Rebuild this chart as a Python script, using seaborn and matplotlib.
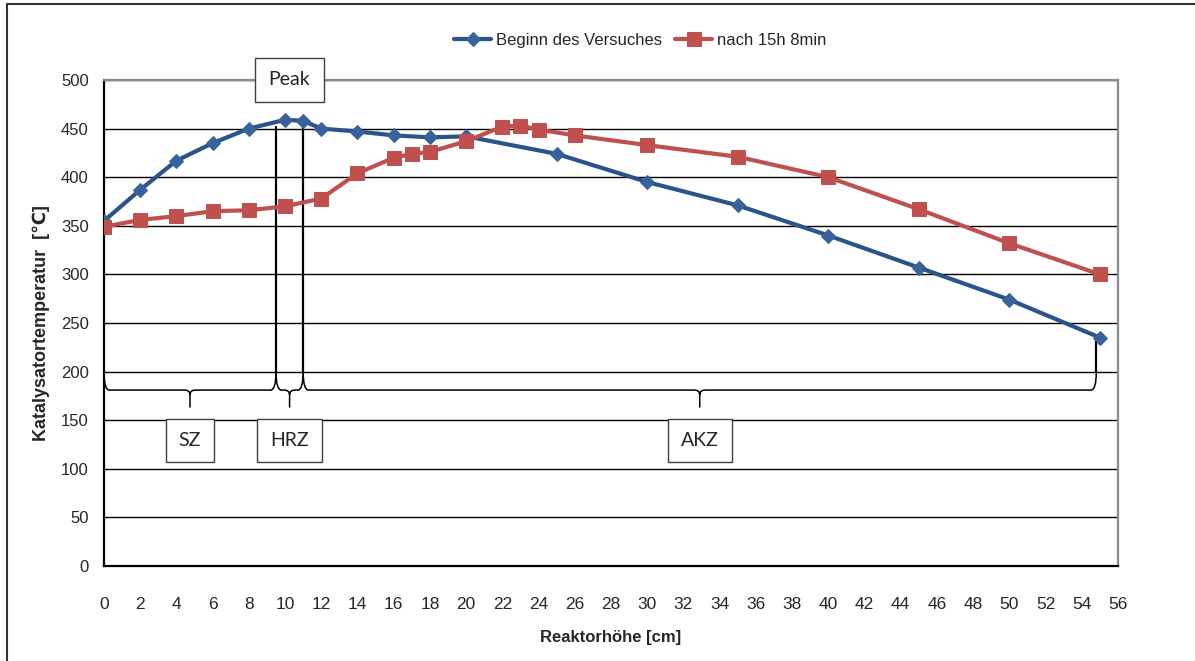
import numpy as np
import pandas as pd
import seaborn as sns
import matplotlib.pyplot as plt
import matplotlib.font_manager as fm
from matplotlib.path import Path
from matplotlib.patches import PathPatch
from matplotlib.lines import Line2D

# Messwerte: Reaktorhöhe [cm] und Katalysatortemperatur [°C]
hoehe_beginn = [0, 2, 4, 6, 8, 10, 11, 12, 14, 16, 18, 20, 25, 30, 35, 40, 45, 50, 55]
temp_beginn = [355, 387, 417, 435, 450, 459, 458, 450, 447, 443, 441, 442, 424, 395, 371, 340, 307, 274, 235]
hoehe_15h = [0, 2, 4, 6, 8, 10, 12, 14, 16, 17, 18, 20, 22, 23, 24, 26, 30, 35, 40, 45, 50, 55]
temp_15h = [349, 356, 360, 365, 366, 370, 378, 404, 420, 424, 426, 437, 452, 453, 449, 443, 433, 421, 400, 367, 332, 300]
serien = ['Beginn des Versuches', 'nach 15h 8min']

# Zonen entlang des Reaktors
zonen = ['SZ', 'HRZ', 'AKZ']
zonen_grenzen = [0, 9.5, 11, 54.8]
peak_text = 'Peak'

x_ticks = list(range(0, 57, 2))
y_ticks = list(range(0, 501, 50))


def schrift(namen):
    # erste installierte Schrift aus der Liste nehmen
    for n in namen:
        try:
            fm.findfont(n, fallback_to_default=False)
            return n
        except ValueError:
            pass
    return 'DejaVu Sans'


sns.set_style('white')
arial = schrift(['Liberation Sans', 'Arial'])
schmal = schrift(['Liberation Sans Narrow', 'Liberation Sans'])
calibri = schrift(['Lato', 'Open Sans'])
plt.rcParams['font.family'] = [arial, 'DejaVu Sans']

blau_linie = '#2a5389'
blau_punkt = '#37639a'
rot = '#c0504d'

df_beginn = pd.DataFrame({'hoehe': hoehe_beginn, 'temp': temp_beginn})
df_15h = pd.DataFrame({'hoehe': hoehe_15h, 'temp': temp_15h})

fig = plt.figure(figsize=(11.95, 6.61), dpi=100)
ax = fig.add_axes([0.0870, 0.1437, 0.8486, 0.7353])

sns.lineplot(data=df_beginn, x='hoehe', y='temp', ax=ax, color=blau_linie, lw=3,
             marker='D', markersize=7, markerfacecolor=blau_punkt,
             markeredgecolor=blau_punkt, label=serien[0], zorder=4)
sns.lineplot(data=df_15h, x='hoehe', y='temp', ax=ax, color=rot, lw=3,
             marker='s', markersize=10, markerfacecolor=rot,
             markeredgecolor=rot, label=serien[1], zorder=5)

ax.set_xlim(0, 56)
ax.set_ylim(0, 500)
ax.set_xticks(x_ticks)
ax.set_yticks(y_ticks)
ax.yaxis.grid(True, color='black', lw=1)
ax.xaxis.grid(False)
ax.set_axisbelow(True)

for s in ['left', 'bottom']:
    ax.spines[s].set_color('black')
    ax.spines[s].set_linewidth(1.6)
for s in ['top', 'right']:
    ax.spines[s].set_color('#8c8c8c')
    ax.spines[s].set_linewidth(1.6)

ax.tick_params(axis='x', length=0, pad=22, labelsize=12.5)
ax.tick_params(axis='y', direction='out', length=5, width=1, color='black', pad=6, labelsize=12)
for t in ax.get_xticklabels():
    t.set_fontfamily([schmal, 'DejaVu Sans'])

ax.set_xlabel('Reaktorhöhe [cm]', fontsize=12, fontweight='bold', family=[schmal, 'DejaVu Sans'])
ax.set_ylabel('Katalysatortemperatur  [℃]', fontsize=13, fontweight='bold', family=[arial, 'DejaVu Sans'])
ax.xaxis.set_label_coords(0.5, -0.148)
ax.xaxis.label.set_va('center')
ax.yaxis.set_label_coords(-0.062, 0.5)
ax.yaxis.label.set_va('center')

leg = ax.legend(loc='center', bbox_to_anchor=(0.529, 1.082), ncol=2, frameon=False,
                handlelength=2.2, columnspacing=0.8, handletextpad=0.3,
                prop={'family': [schmal, 'DejaVu Sans'], 'size': 12})

# Trennlinien der Zonen am Peak und am Ende
linien_oben = [452, 452, temp_beginn[-1]]
for xg, yo in zip(zonen_grenzen[1:], linien_oben):
    ax.plot([xg, xg], [200, yo], color='black', lw=1.6, zorder=3)


def klammer(ax, x0, x1, oben=200, mitte=181, spitze=163, r=0.3, d=5):
    xm = (x0 + x1) / 2
    verts = [(x0, oben), (x0, mitte), (x0 + r, mitte),
             (xm - r, mitte), (xm, mitte), (xm, mitte - d),
             (xm, spitze),
             (xm, mitte - d), (xm, mitte), (xm + r, mitte),
             (x1 - r, mitte), (x1, mitte), (x1, oben)]
    codes = [Path.MOVETO, Path.CURVE3, Path.CURVE3,
             Path.LINETO, Path.CURVE3, Path.CURVE3,
             Path.LINETO,
             Path.MOVETO, Path.CURVE3, Path.CURVE3,
             Path.LINETO, Path.CURVE3, Path.CURVE3]
    ax.add_patch(PathPatch(Path(verts, codes), fc='none', ec='black', lw=1.1, zorder=3))
    return xm


box = dict(boxstyle='square,pad=0.68', fc='white', ec='#404040', lw=1)
for name, x0, x1 in zip(zonen, zonen_grenzen[:-1], zonen_grenzen[1:]):
    xm = klammer(ax, x0, x1)
    ax.text(xm, 129, name, ha='center', va='center', fontsize=14,
            family=[calibri, 'DejaVu Sans'], bbox=box, zorder=6)

ax.text((zonen_grenzen[1] + zonen_grenzen[2]) / 2, 500, peak_text, ha='center', va='center',
        fontsize=14, family=[calibri, 'DejaVu Sans'], bbox=box, zorder=6, clip_on=False)

# Rahmen oben und links
fig.add_artist(Line2D([7 / 1195, 1], [1 - 4 / 661, 1 - 4 / 661], color='#333333', lw=1.5))
fig.add_artist(Line2D([7 / 1195, 7 / 1195], [0, 1 - 4 / 661], color='#333333', lw=1.5))

fig.savefig('out.png', dpi=100)
